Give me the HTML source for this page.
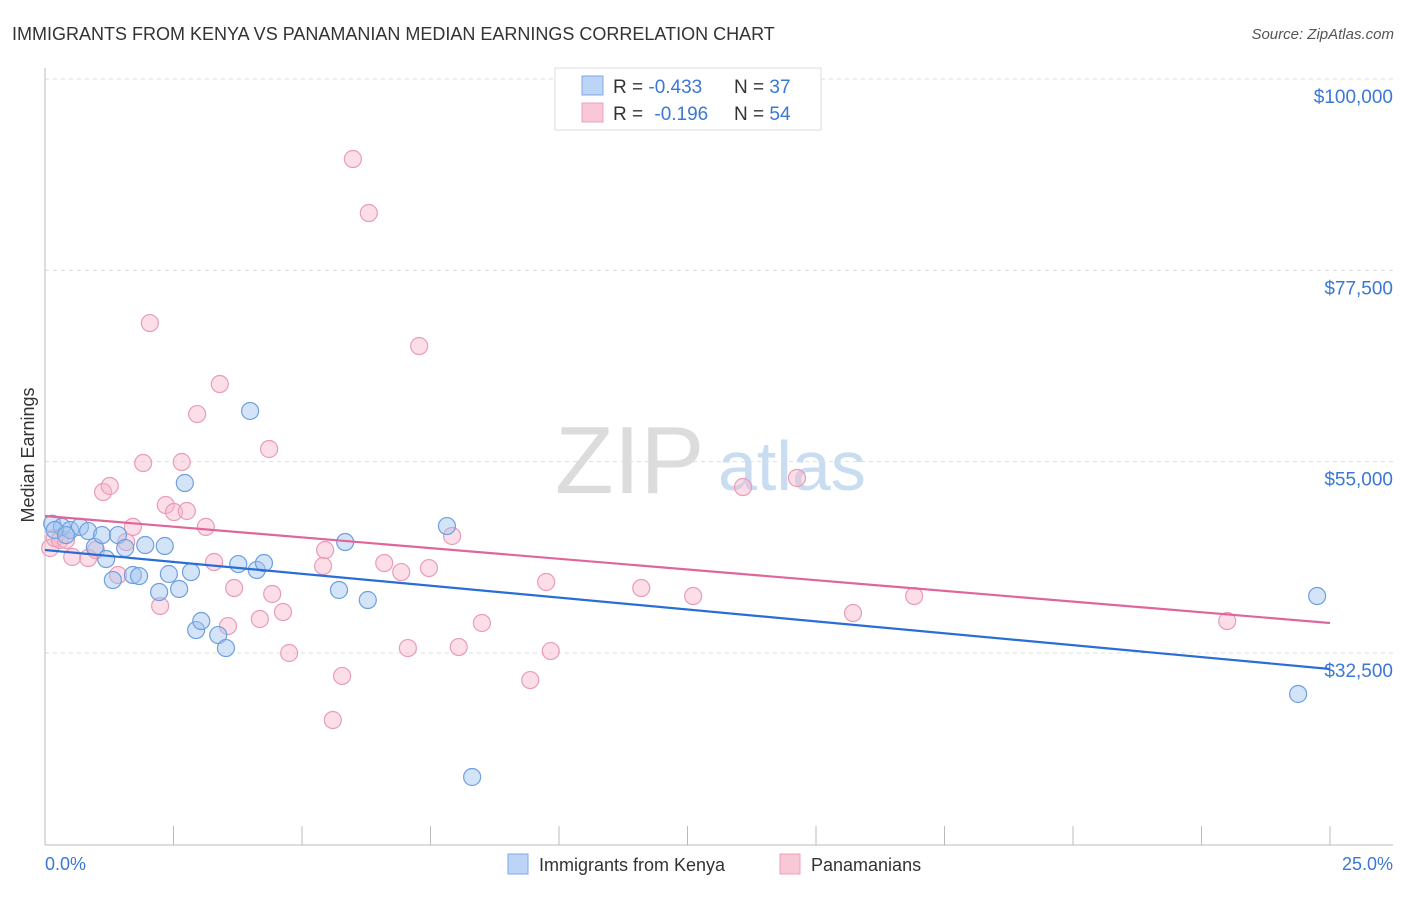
<!DOCTYPE html>
<html><head><meta charset="utf-8"><style>
body{margin:0;background:#fff;font-family:"Liberation Sans",sans-serif}
svg text{font-family:"Liberation Sans",sans-serif}
</style></head><body>
<svg width="1406" height="892" viewBox="0 0 1406 892">
<text x="12" y="40" font-size="18" fill="#333">IMMIGRANTS FROM KENYA VS PANAMANIAN MEDIAN EARNINGS CORRELATION CHART</text>
<text x="1394" y="39" font-size="15" fill="#555" font-style="italic" text-anchor="end">Source: ZipAtlas.com</text>
<text x="555" y="493" font-size="96" fill="#dcdcdc" font-family="Liberation Serif">ZIP</text>
<text x="718" y="490" font-size="70" fill="#c8dcf2">atlas</text>
<g id="grid"></g>
<line x1="45" y1="68" x2="45" y2="845" stroke="#bbb"/>
<line x1="45" y1="845" x2="1393" y2="845" stroke="#bbb"/>
<g id="ticks"></g>
<text x="34" y="455" font-size="18" fill="#333" transform="rotate(-90 34 455)" text-anchor="middle">Median Earnings</text>
<text x="45" y="870" font-size="18" fill="#3a78d4">0.0%</text>
<text x="1393" y="870" font-size="18" fill="#3a78d4" text-anchor="end">25.0%</text>
<g id="pts"></g>
<g id="lines"></g>
<g>
<rect x="555" y="68" width="266" height="62" fill="#fff" stroke="#ddd"/>
<rect x="582" y="76" width="21" height="19" fill="#bcd4f5" stroke="#7fa8e6"/>
<rect x="582" y="103" width="21" height="19" fill="#f9c8d7" stroke="#eda0ba"/>
<text x="613" y="93" font-size="19" fill="#333">R = <tspan fill="#3a78d4">-0.433</tspan><tspan x="734">N = </tspan><tspan fill="#3a78d4">37</tspan></text>
<text x="613" y="120" font-size="19" fill="#333">R = <tspan fill="#3a78d4" dx="6">-0.196</tspan><tspan x="734">N = </tspan><tspan fill="#3a78d4">54</tspan></text>
</g>
<g>
<rect x="508" y="854" width="20" height="20" fill="#bcd4f5" stroke="#7fa8e6"/>
<text x="539" y="871" font-size="18" fill="#333">Immigrants from Kenya</text>
<rect x="780" y="854" width="20" height="20" fill="#f9c8d7" stroke="#eda0ba"/>
<text x="811" y="871" font-size="18" fill="#333">Panamanians</text>
</g>
</svg>
<script>
const yTicks=[100000,77500,55000,32500];
const yTickLabels=["$100,000","$77,500","$55,000","$32,500"];
const xTicks=[0,2.5,5,7.5,10,12.5,15,17.5,20,22.5,25];
const kenyaX=[0.14,0.33,0.49,0.68,0.84,0.97,1.11,1.19,1.32,1.42,1.56,1.71,1.83,1.95,2.22,2.33,2.41,2.61,2.72,2.84,2.94,3.04,3.37,3.52,3.76,3.99,4.12,4.26,5.72,5.84,6.28,7.82,8.31,24.38,24.75,0.19,0.41];
const kenyaY=[47700,47330,46960,47330,46840,44960,46370,43550,41080,46370,44850,41670,41550,45200,39670,45080,41790,40030,52490,42020,35200,36260,34610,33080,42960,60960,42260,43080,39910,45550,38730,47430,17920,27680,39200,46960,46370];
const panX=[0.10,0.19,0.29,0.41,0.53,0.84,0.99,1.13,1.26,1.42,1.58,1.71,1.91,2.04,2.24,2.35,2.51,2.66,2.76,2.96,3.13,3.29,3.40,3.56,3.68,4.18,4.36,4.42,4.63,4.75,5.41,5.45,5.60,5.78,5.99,6.30,6.60,6.93,7.06,7.28,7.47,7.92,8.05,8.50,9.44,9.75,9.84,11.60,12.61,13.58,14.63,15.72,16.91,23.00];
const panY=[44850,46020,45790,45790,43790,43670,44610,51430,52140,41670,45550,47330,54840,71300,38030,49900,49080,54960,49200,60600,47330,43200,64130,35670,40140,36500,56490,39440,37320,32500,42730,44610,24620,29800,90590,84240,43080,42020,33080,68600,42490,46260,33200,36030,29320,40850,32730,40140,39200,52020,53080,37200,39200,36260];
const trendX=[0,25];
const kenyaTrend=[44610,30620];
const panTrend=[48610,36030];
const NS="http://www.w3.org/2000/svg";
function sx(v){return 45+v/25*1285;}
function sy(v){return 79+(100000-v)/67500*574;}
function mk(t,a,p){const e=document.createElementNS(NS,t);for(const k in a)e.setAttribute(k,a[k]);p.appendChild(e);return e;}
const grid=document.getElementById('grid');
yTicks.forEach((v,i)=>{
 const l=mk('line',{x1:45,x2:1393,y1:sy(v),y2:sy(v),stroke:'#ddd','stroke-dasharray':'4 4'},grid);
 
 
 const t=mk('text',{x:1393,y:sy(v)+24,'font-size':19,fill:'#3a78d4','text-anchor':'end'},grid);
 t.textContent=yTickLabels[i];
 
 
});
const ticks=document.getElementById('ticks');
xTicks.forEach(v=>{
 const l=mk('line',{x1:sx(v),x2:sx(v),y1:826,y2:845,stroke:'#bbb'},ticks);
 
 
});
const pts=document.getElementById('pts');
function series(X,Y,fill,stroke,name){
 X.forEach((x,i)=>{
  const c=mk('circle',{cx:sx(x),cy:sy(Y[i]),r:8.5,fill:fill,stroke:stroke,'stroke-width':1.2},pts);
  
  
 });
}
series(panX,panY,'rgba(246,182,202,0.45)','#e99cb7','panamanian-point');
series(kenyaX,kenyaY,'rgba(160,196,240,0.45)','#6f9fe0','kenya-point');
const lines=document.getElementById('lines');
const lk=mk('line',{x1:sx(trendX[0]),y1:sy(kenyaTrend[0]),x2:sx(trendX[1]),y2:sy(kenyaTrend[1]),stroke:'#2a6dd6','stroke-width':2.2},lines);


const lp=mk('line',{x1:sx(trendX[0]),y1:sy(panTrend[0]),x2:sx(trendX[1]),y2:sy(panTrend[1]),stroke:'#e0669a','stroke-width':2.2},lines);


</script>
</body></html>
